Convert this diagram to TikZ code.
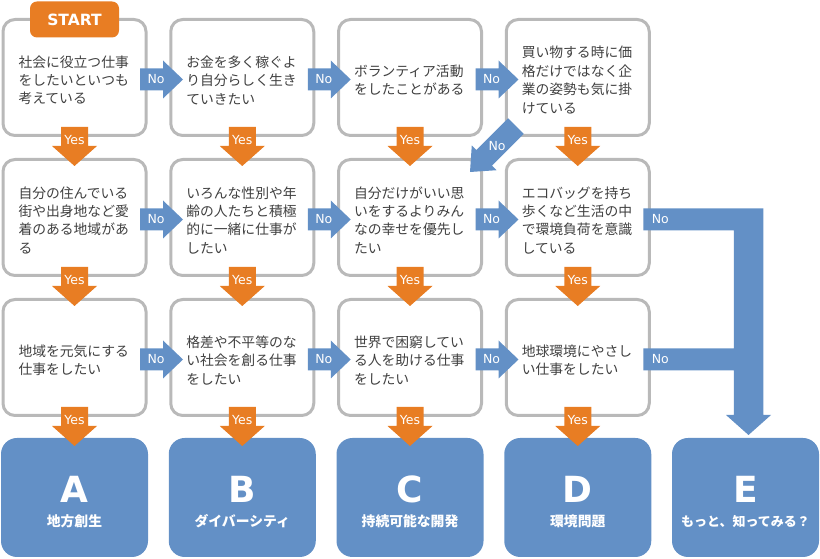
\documentclass[tikz,border=0pt]{standalone}
\usepackage{fontspec}
\setmainfont{Noto Sans CJK JP}
\newfontfamily\latinfont{DejaVu Sans}
\usetikzlibrary{calc}

\definecolor{yescol}{RGB}{232,125,35}
\definecolor{nocol}{RGB}{99,144,198}
\definecolor{framecol}{RGB}{185,185,185}
\definecolor{textcol}{RGB}{64,64,64}

\tikzset{
  qbox/.style={draw=framecol, line width=3pt, fill=white, rounded corners=12pt,
    minimum width=143pt, minimum height=116pt, text width=112pt, align=left,
    inner sep=0pt, outer sep=0pt, text=textcol,
    execute at begin node={\rule{0pt}{17pt}},
    font=\fontsize{13.8}{18.4}\selectfont},
  resbox/.style={fill=nocol, rounded corners=16pt, minimum width=147pt,
    minimum height=119pt, inner sep=0pt, outer sep=0pt},
  resletter/.style={text=white, inner sep=0pt,
    font=\latinfont\bfseries\fontsize{36}{40}\selectfont},
  reslabel/.style={text=white, inner sep=0pt,
    font=\bfseries\fontsize{13.8}{16}\selectfont},
  startbox/.style={fill=yescol, rounded corners=7pt, minimum width=89pt,
    minimum height=36pt, inner sep=0pt, text=white,
    font=\latinfont\bfseries\fontsize{15.5}{18}\selectfont},
  yeslabel/.style={text=white, inner sep=0pt,
    font=\latinfont\fontsize{12.5}{14}\selectfont},
  nolabel/.style={yeslabel}
}

% orange arrow down out of a box
\newcommand{\yesarrow}[1]{%
  \fill[yescol] let \p1=(#1.south) in
    (\x1-13.5pt,\y1+8.5pt) -- (\x1+13.5pt,\y1+8.5pt) -- (\x1+13.5pt,\y1-10.5pt)
    -- (\x1+22.5pt,\y1-10.5pt) -- (\x1,\y1-30.5pt) -- (\x1-22.5pt,\y1-10.5pt)
    -- (\x1-13.5pt,\y1-10.5pt) -- cycle;
  \node[yeslabel] (#1yes) at ($(#1.south)+(0,-5)$) {Yes};}

% blue arrow right out of a box
\newcommand{\noarrow}[1]{%
  \fill[nocol] let \p1=(#1.east) in
    (\x1-6pt,\y1+9pt) -- (\x1+17pt,\y1+9pt) -- (\x1+17pt,\y1+17pt)
    -- (\x1+37pt,\y1-2pt) -- (\x1+17pt,\y1-21pt) -- (\x1+17pt,\y1-13pt)
    -- (\x1-6pt,\y1-13pt) -- cycle;
  \node[nolabel] (#1no) at ($(#1.east)+(10,-2)$) {No};}

\begin{document}
\begin{tikzpicture}[x=1pt, y=1pt]
  \useasboundingbox (0,0) rectangle (820,559);

  % questions
  \node[qbox] (q11) at (74.5,481.5) {社会に役立つ仕事\\をしたいといつも\\考えている};
  \node[qbox] (q12) at (242.25,481.5) {お金を多く稼ぐよ\\り自分らしく生き\\ていきたい};
  \node[qbox] (q13) at (410,481.5) {ボランティア活動\\をしたことがある};
  \node[qbox] (q14) at (577.75,481.5) {買い物する時に価\\格だけではなく企\\業の姿勢も気に掛\\けている};

  \node[qbox] (q21) at (74.5,341.5) {自分の住んでいる\\街や出身地など愛\\着のある地域があ\\る};
  \node[qbox] (q22) at (242.25,341.5) {いろんな性別や年\\齢の人たちと積極\\的に一緒に仕事が\\したい};
  \node[qbox] (q23) at (410,341.5) {自分だけがいい思\\いをするよりみん\\なの幸せを優先し\\たい};
  \node[qbox] (q24) at (577.75,341.5) {エコバッグを持ち\\歩くなど生活の中\\で環境負荷を意識\\している};

  \node[qbox] (q31) at (74.5,201.5) {地域を元気にする\\仕事をしたい};
  \node[qbox] (q32) at (242.25,201.5) {格差や不平等のな\\い社会を創る仕事\\をしたい};
  \node[qbox] (q33) at (410,201.5) {世界で困窮してい\\る人を助ける仕事\\をしたい};
  \node[qbox] (q34) at (577.75,201.5) {地球環境にやさし\\い仕事をしたい};

  \node[startbox] (start) at (q11.north) {START};

  % results
  \node[resbox] (rA) at (74.5,61.5) {};
  \node[resbox] (rB) at (242.25,61.5) {};
  \node[resbox] (rC) at (410,61.5) {};
  \node[resbox] (rD) at (577.75,61.5) {};
  \node[resbox] (rE) at (745.5,61.5) {};
  \node[resletter] (lA) at ($(rA)+(0,8.5)$) {A};
  \node[resletter] (lB) at ($(rB)+(0,8.5)$) {B};
  \node[resletter] (lC) at ($(rC)+(0,8.5)$) {C};
  \node[resletter] (lD) at ($(rD)+(0,8.5)$) {D};
  \node[resletter] (lE) at ($(rE)+(0,8.5)$) {E};
  \node[reslabel] (tA) at ($(rA)+(0,-24)$) {地方創生};
  \node[reslabel] (tB) at ($(rB)+(0,-24)$) {ダイバーシティ};
  \node[reslabel] (tC) at ($(rC)+(0,-24)$) {持続可能な開発};
  \node[reslabel] (tD) at ($(rD)+(0,-24)$) {環境問題};
  \node[reslabel, font=\bfseries\fontsize{13}{16}\selectfont] (tE) at ($(rE)+(0,-24)$) {もっと、知ってみる？};

  % yes
  \yesarrow{q11} \yesarrow{q12} \yesarrow{q13} \yesarrow{q14}
  \yesarrow{q21} \yesarrow{q22} \yesarrow{q23} \yesarrow{q24}
  \yesarrow{q31} \yesarrow{q32} \yesarrow{q33} \yesarrow{q34}

  % no
  \noarrow{q11} \noarrow{q12} \noarrow{q13}
  \noarrow{q21} \noarrow{q22} \noarrow{q23}
  \noarrow{q31} \noarrow{q32} \noarrow{q33}

  % no from q14 down to q23
  \coordinate (diagtip) at ($(q23.north east)+(-11.5,-12.5)$);
  \fill[nocol, shift={(diagtip)}, rotate=45]
    (0,0) -- (20,17.5) -- (20,11) -- (65,11) -- (65,-11) -- (20,-11) -- (20,-17.5) -- cycle;
  \node[nolabel] (q14no) at ($(diagtip)+(27,25.5)$) {No};

  % no from q24 and q34 to E
  \fill[nocol] let \p1=(q24.east), \p2=(q34.east), \p3=(rE.north) in
    (\x1-6pt,\y1+9pt) -- (\x3+17.75pt,\y1+9pt) -- (\x3+17.75pt,\y3+23pt)
    -- (\x3+25.5pt,\y3+23pt) -- (\x3+3pt,\y3+3pt) -- (\x3-19.5pt,\y3+23pt)
    -- (\x3-11.75pt,\y3+23pt) -- (\x3-11.75pt,\y2-13pt) -- (\x2-6pt,\y2-13pt)
    -- (\x2-6pt,\y2+9pt) -- (\x3-11.75pt,\y2+9pt) -- (\x3-11.75pt,\y1-13pt)
    -- (\x1-6pt,\y1-13pt) -- cycle;
  \node[nolabel] (q24no) at ($(q24.east)+(11,-2)$) {No};
  \node[nolabel] (q34no) at ($(q34.east)+(11,-2)$) {No};
\end{tikzpicture}
\end{document}
